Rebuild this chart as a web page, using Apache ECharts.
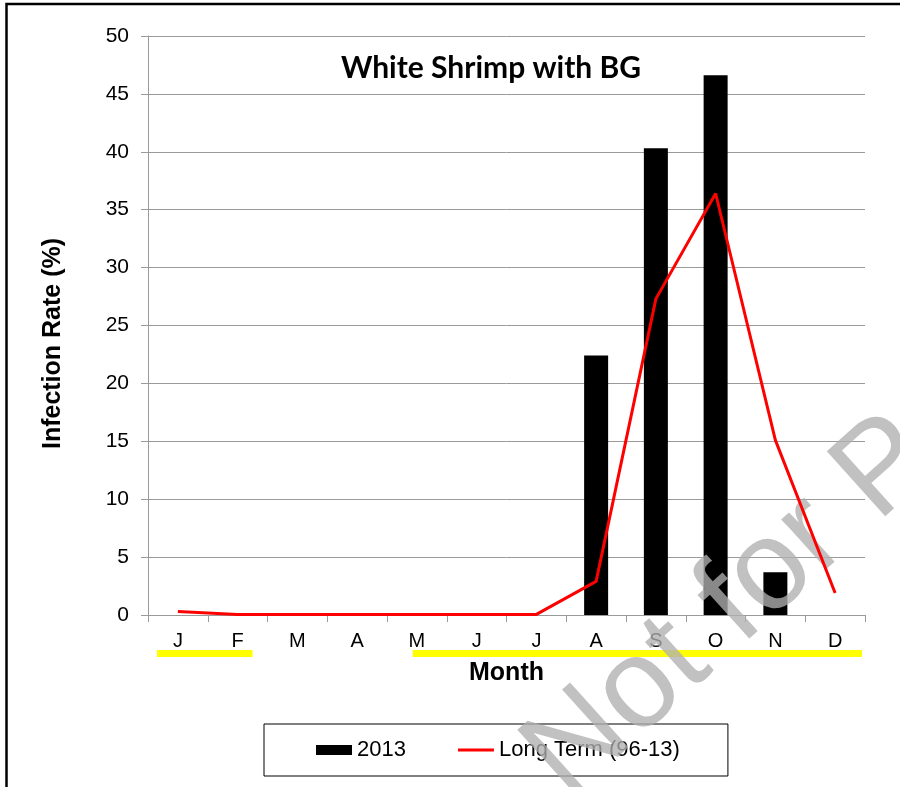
<!DOCTYPE html>
<html>
<head>
<meta charset="utf-8">
<script src="https://cdn.jsdelivr.net/npm/echarts@6/dist/echarts.min.js"></script>
<style>
html,body{margin:0;padding:0;background:#fff;}
#main{width:900px;height:787px;}
</style>
</head>
<body>
<div id="main"></div>
<script>
// ---- data ----
const months = ['J','F','M','A','M','J','J','A','S','O','N','D'];
const values2013 = [null, null, null, null, null, null, null, 22.4, 40.3, 46.6, 3.7, null];
const longTerm = [0.3, 0.05, 0.05, 0.05, 0.05, 0.05, 0.05, 2.9, 27.3, 36.4, 15.1, 1.9];
const yTicks = [0, 5, 10, 15, 20, 25, 30, 35, 40, 45, 50];
const seasonRanges = [[0, 1], [4, 11]]; // month index spans underlined in yellow
const seriesNames = ['2013', 'Long Term (96-13)'];
const titleText = 'White Shrimp with BG';
const watermark = 'Not for P';

// ---- layout (styling only) ----
const rangeOffsets = [[-0.35, 0.25], [-0.07, 0.45]];

const chart = echarts.init(document.getElementById('main'), null, {renderer: 'canvas'});
const axisGray = '#9a9a9a';
const font = '"Liberation Sans", Arial, sans-serif';

const option = {
  animation: false,
  backgroundColor: '#fff',
  grid: {left: 148, right: 35, top: 36, bottom: 172, containLabel: false},
  title: {
    text: titleText,
    left: 486, top: 48, textAlign: 'center',
    textStyle: {fontFamily: 'Lato, "Open Sans", sans-serif', fontWeight: 'bold', fontSize: 30, color: '#000'}
  },
  legend: {
    left: 264, top: 724,
    padding: [15, 48, 15, 52],
    borderColor: '#000', borderWidth: 1,
    itemWidth: 36, itemHeight: 10, itemGap: 52,
    textStyle: {fontFamily: font, fontSize: 22, color: '#000'},
    data: [{name: seriesNames[0], icon: 'rect'}, {name: seriesNames[1], icon: 'path://M0,0H36V3H0Z'}]
  },
  xAxis: {
    type: 'category',
    data: months,
    name: 'Month', nameLocation: 'middle', nameGap: 46,
    nameTextStyle: {fontFamily: font, fontWeight: 'bold', fontSize: 25, color: '#000'},
    axisLine: {lineStyle: {color: axisGray, width: 1}},
    axisTick: {show: true, length: 7, lineStyle: {color: axisGray}},
    axisLabel: {fontFamily: font, fontSize: 20, color: '#000', margin: 16, interval: 0}
  },
  yAxis: {
    type: 'value', min: yTicks[0], max: yTicks[yTicks.length - 1], interval: yTicks[1] - yTicks[0],
    name: 'Infection Rate (%)', nameLocation: 'middle', nameGap: 82, nameRotate: 90,
    nameTextStyle: {fontFamily: font, fontWeight: 'bold', fontSize: 25, color: '#000', padding: [0, 36, 0, 0]},
    axisLine: {show: true, lineStyle: {color: axisGray, width: 1}},
    axisTick: {show: true, length: 7, lineStyle: {color: axisGray}},
    axisLabel: {fontFamily: font, fontSize: 21, color: '#000', margin: 19},
    splitLine: {show: true, lineStyle: {color: axisGray, width: 1}}
  },
  series: [
    {
      name: seriesNames[0], type: 'bar', data: values2013, barWidth: 24,
      itemStyle: {color: '#000'}
    },
    {
      name: seriesNames[1], type: 'line', data: longTerm, symbol: 'none',
      lineStyle: {color: '#ff0000', width: 3}, itemStyle: {color: '#ff0000'}, z: 10
    }
  ]
};
chart.setOption(option);

// yellow underlines & frame & watermark
const catW = chart.convertToPixel({xAxisIndex: 0}, 1) - chart.convertToPixel({xAxisIndex: 0}, 0);
const baseY = chart.convertToPixel({yAxisIndex: 0}, 0);
const graphics = [];
seasonRanges.forEach((r, i) => {
  const x0 = chart.convertToPixel({xAxisIndex: 0}, r[0]) + rangeOffsets[i][0] * catW;
  const x1 = chart.convertToPixel({xAxisIndex: 0}, r[1]) + rangeOffsets[i][1] * catW;
  graphics.push({type: 'rect', shape: {x: x0, y: baseY + 35, width: x1 - x0, height: 7},
    style: {fill: '#ffff00'}, z: 1, silent: true});
});
graphics.push({type: 'rect', shape: {x: 6.5, y: 4, width: 1000, height: 1000},
  style: {fill: null, stroke: '#000', lineWidth: 2.5}, z: 0, silent: true});
graphics.push({type: 'text', x: 587, y: 823, rotation: 42 * Math.PI / 180,
  style: {text: watermark, font: '127px "Liberation Sans", Arial, sans-serif',
    fill: 'rgba(176,176,176,0.78)', textAlign: 'left', textVerticalAlign: 'bottom'},
  z: 5, silent: true});
chart.setOption({graphic: graphics});
</script>
</body>
</html>
